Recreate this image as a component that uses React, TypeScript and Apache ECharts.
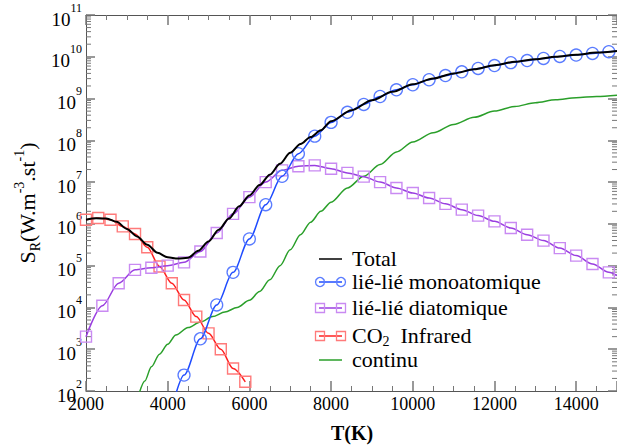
import React, { useEffect, useRef } from "react";
import * as echarts from "echarts";

// ---- data (T in K, S_R in W.m^-3.st^-1) ----
const totalT = [2000, 2250, 2500, 2750, 3000, 3250, 3500, 3750, 4000, 4250, 4500, 4750, 5000, 5250, 5500, 5750, 6000, 6250, 6500, 6750, 7000, 7250, 7500, 7750, 8000, 8500, 9000, 9500, 10000, 10500, 11000, 11500, 12000, 12500, 13000, 13500, 14000, 14500, 15000];
const totalS = [1.26e6, 1.36e6, 1.35e6, 1.12e6, 7.59e5, 5.01e5, 3.16e5, 2.04e5, 1.58e5, 1.48e5, 1.55e5, 2.29e5, 3.8e5, 7.24e5, 1.35e6, 2.63e6, 4.79e6, 8.51e6, 1.51e7, 2.75e7, 5.01e7, 8.13e7, 1.2e8, 1.74e8, 2.88e8, 5.25e8, 9.12e8, 1.45e9, 2.19e9, 3.02e9, 3.98e9, 5.01e9, 6.31e9, 7.59e9, 8.71e9, 1.0e10, 1.12e10, 1.26e10, 1.38e10];

const monoT = [4200, 4400, 4800, 5200, 5600, 6000, 6400, 6800, 7200, 7600, 8000, 8400, 8800, 9200, 9600, 10000, 10400, 10800, 11200, 11600, 12000, 12400, 12800, 13200, 13600, 14000, 14400, 14800, 15000];
const monoS = [85, 2.4e2, 1.78e3, 1.15e4, 6.92e4, 4.37e5, 2.88e6, 1.38e7, 4.79e7, 1.26e8, 2.69e8, 4.68e8, 7.24e8, 1.12e9, 1.62e9, 2.14e9, 2.82e9, 3.55e9, 4.37e9, 5.25e9, 6.17e9, 7.24e9, 8.13e9, 9.12e9, 1.02e10, 1.1e10, 1.2e10, 1.32e10, 1.35e10];
const monoNoMarker = [4200, 15000];

const diaT = [2000, 2400, 2800, 3200, 3600, 4000, 4400, 4800, 5200, 5600, 6000, 6400, 6800, 7200, 7600, 8000, 8400, 8800, 9200, 9600, 10000, 10400, 10800, 11200, 11600, 12000, 12400, 12800, 13200, 13600, 14000, 14400, 14800, 15000];
const diaS = [2.0e3, 1.1e4, 3.8e4, 7.94e4, 8.91e4, 1.0e5, 1.2e5, 2.19e5, 6.03e5, 1.74e6, 4.37e6, 1.0e7, 1.91e7, 2.4e7, 2.51e7, 2.09e7, 1.66e7, 1.35e7, 1.0e7, 7.24e6, 5.5e6, 4.17e6, 3.02e6, 2.19e6, 1.58e6, 1.15e6, 7.94e5, 5.5e5, 3.98e5, 2.63e5, 1.74e5, 1.1e5, 6.92e4, 5.75e4];
const diaNoMarker = [15000];

const co2T = [2000, 2300, 2600, 2900, 3200, 3500, 3800, 4100, 4400, 4700, 5000, 5300, 5600, 5900];
const co2S = [1.26e6, 1.38e6, 1.26e6, 8.71e5, 5.75e5, 2.75e5, 9.55e4, 3.8e4, 1.51e4, 6.03e3, 2.4e3, 1.0e3, 3.47e2, 1.66e2];

const contT = [3300, 3440, 3600, 3800, 4000, 4200, 4500, 4800, 5100, 5400, 5700, 6000, 6250, 6500, 6750, 7000, 7250, 7500, 7750, 8000, 8400, 8800, 9200, 9600, 10000, 10500, 11000, 11500, 12000, 12500, 13000, 13500, 14000, 14500, 15000];
const contS = [87, 174, 380, 759, 1.32e3, 2.19e3, 3.31e3, 4.47e3, 6.03e3, 7.76e3, 1.0e4, 1.48e4, 2.4e4, 4.57e4, 1.0e5, 2.4e5, 5.5e5, 1.1e6, 2.0e6, 3.31e6, 7.24e6, 1.38e7, 2.63e7, 5.25e7, 9.12e7, 1.51e8, 2.4e8, 3.55e8, 5.01e8, 6.46e8, 7.94e8, 9.33e8, 1.05e9, 1.12e9, 1.2e9];

// axis settings
const xMin = 2000;
const xMax = 15000;
const xStep = 2000;
const yMin = 1e2;
const yMax = 1e11;
const yMinorMultipliers = [2, 3, 4, 5, 6, 7, 8, 9];
const yDecadeExponents = [2, 3, 4, 5, 6, 7, 8, 9, 10];

const legendLabels = ["Total", "lié-lié monoatomique", "lié-lié diatomique", "CO{sub|2}  Infrared", "continu"];

const FONT = "Liberation Serif";
const C_BLACK = "#000000";
const C_BLUE = "#1f4cff";
const C_BLUE_M = "#5a7cff";
const C_PURPLE = "#9a3ee0";
const C_PURPLE_M = "#c98af2";
const C_RED = "#ff2020";
const C_RED_M = "#ff7a7a";
const C_GREEN = "#2a9f2a";
const AXIS_C = "#555555";
const TICK_C = "#777777";

function pairs(t: number[], s: number[], noMarker: number[] = []) {
  return t.map((x, i) =>
    noMarker.indexOf(x) >= 0 ? { value: [x, s[i]], symbol: "none" } : { value: [x, s[i]] }
  );
}

export default function App() {
  const ref = useRef<HTMLDivElement>(null);
  useEffect(() => {
    if (!ref.current) return;
    const chart = echarts.init(ref.current, null, { renderer: "svg" });

    const minorY: number[][] = [];
    yDecadeExponents.forEach((e) =>
      yMinorMultipliers.forEach((m) => minorY.push([xMin, m * Math.pow(10, e)]))
    );

    const xAxisCommon = {
      type: "value",
      min: xMin,
      max: xMax,
      interval: xStep,
      splitLine: { show: false },
      axisLine: { show: true, onZero: false, lineStyle: { color: AXIS_C, width: 1 } },
      axisTick: { show: true, inside: true, length: 10, lineStyle: { color: TICK_C, width: 1.5 } },
      minorTick: { show: true, splitNumber: 4, length: 5, lineStyle: { color: TICK_C, width: 1 } },
    };
    const yAxisCommon = {
      type: "log",
      logBase: 10,
      min: yMin,
      max: yMax,
      splitLine: { show: false },
      axisLine: { show: true, onZero: false, lineStyle: { color: AXIS_C, width: 1 } },
      axisTick: { show: true, inside: true, length: 9, lineStyle: { color: TICK_C, width: 1.5 } },
    };

    const legendRowsY = [259, 282, 308, 336, 360];
    const lx1 = 320;
    const lx2 = 341;
    const textX = 352;
    const legendColors = [C_BLACK, C_BLUE, C_PURPLE, C_RED, C_GREEN];
    const graphic: any[] = [];
    legendRowsY.forEach((y, i) => {
      graphic.push({
        type: "line",
        shape: { x1: lx1 - 1, y1: y, x2: lx2 + 1, y2: y },
        style: { stroke: legendColors[i], lineWidth: 1.5 },
      });
      if (i === 1) {
        [lx1, lx2].forEach((cx) =>
          graphic.push({ type: "circle", shape: { cx, cy: y, r: 4.5 }, style: { fill: "none", stroke: C_BLUE_M, lineWidth: 1.3 } })
        );
      }
      if (i === 2 || i === 3) {
        const mc = i === 2 ? C_PURPLE_M : C_RED_M;
        [lx1, lx2].forEach((cx) =>
          graphic.push({ type: "rect", shape: { x: cx - 4.5, y: y - 4.5, width: 9, height: 9 }, style: { fill: "none", stroke: mc, lineWidth: 1.3 } })
        );
      }
      graphic.push({
        type: "text",
        x: textX,
        y: y - 1,
        style: {
          text: legendLabels[i],
          fontFamily: FONT,
          fontSize: 22,
          fill: "#000",
          verticalAlign: "middle",
          align: "left",
          rich: { sub: { fontFamily: FONT, fontSize: 14, verticalAlign: "bottom", padding: [12, 0, 0, 0] } },
        },
      });
    });
    // y axis title
    graphic.push({
      type: "text",
      x: 27,
      y: 203,
      rotation: Math.PI / 2,
      style: {
        text: "{b|S}{sub|R}{b|(W.m}{sup|-3}{b|.st}{sup|-1}{b|)}",
        align: "center",
        verticalAlign: "middle",
        fill: "#000",
        rich: {
          b: { fontFamily: FONT, fontSize: 22, padding: [4, 0, 4, 0], verticalAlign: "middle" },
          sup: { fontFamily: FONT, fontSize: 14, verticalAlign: "top" },
          sub: { fontFamily: FONT, fontSize: 14, verticalAlign: "bottom" },
        },
      },
    });
    // x axis title
    graphic.push({
      type: "text",
      x: 352,
      y: 433,
      style: {
        text: "T(K)",
        fontFamily: FONT,
        fontSize: 20,
        fontWeight: "bold",
        fill: "#000",
        align: "center",
        verticalAlign: "middle",
      },
    });

    const option: any = {
      animation: false,
      backgroundColor: "#ffffff",
      textStyle: { fontFamily: FONT },
      grid: { left: 86, right: -2, top: 15, bottom: 54, containLabel: false },
      xAxis: [
        {
          ...xAxisCommon,
          position: "bottom",
          axisLabel: {
            show: true,
            showMaxLabel: false,
            margin: 4,
            fontFamily: FONT,
            fontSize: 18,
            color: "#000",
            formatter: (v: number) => String(v),
          },
        },
        { ...xAxisCommon, position: "top", axisLabel: { show: false } },
      ],
      yAxis: [
        {
          ...yAxisCommon,
          position: "left",
          axisLabel: {
            show: true,
            margin: 4,
            fontFamily: FONT,
            formatter: (v: number) => "{b|10}{sup|" + Math.round(Math.log10(v)) + "}",
            rich: {
              b: { fontFamily: FONT, fontSize: 19, color: "#000", padding: [8, 0, 0, 0], verticalAlign: "bottom" },
              sup: { fontFamily: FONT, fontSize: 12, color: "#000", verticalAlign: "top" },
            },
          },
        },
        { ...yAxisCommon, position: "right", axisLabel: { show: false } },
      ],
      graphic,
      series: [
        {
          type: "custom",
          silent: true,
          clip: false,
          data: minorY,
          renderItem: (params: any, api: any) => {
            const cs = params.coordSys;
            const y = api.coord([xMin, api.value(1)])[1];
            const st = { stroke: TICK_C, lineWidth: 1 };
            return {
              type: "group",
              children: [
                { type: "line", shape: { x1: cs.x, y1: y, x2: cs.x + 5, y2: y }, style: st },
                { type: "line", shape: { x1: cs.x + cs.width - 5, y1: y, x2: cs.x + cs.width, y2: y }, style: st },
              ],
            };
          },
        },
        {
          name: "continu",
          type: "line",
          data: pairs(contT, contS),
          showSymbol: false,
          symbol: "none",
          smooth: 0.3,
          smoothMonotone: "x",
          clip: true,
          lineStyle: { color: C_GREEN, width: 1.5 },
          itemStyle: { color: C_GREEN },
          z: 3,
        },
        {
          name: "CO2 Infrared",
          type: "line",
          data: pairs(co2T, co2S),
          symbol: "rect",
          symbolSize: 11,
          smooth: 0.3,
          smoothMonotone: "x",
          clip: true,
          lineStyle: { color: C_RED, width: 1.5 },
          itemStyle: { color: "rgba(0,0,0,0)", borderColor: C_RED_M, borderWidth: 1.4 },
          z: 4,
        },
        {
          name: "lié-lié diatomique",
          type: "line",
          data: pairs(diaT, diaS, diaNoMarker),
          symbol: "rect",
          symbolSize: 11,
          smooth: 0.3,
          smoothMonotone: "x",
          clip: true,
          lineStyle: { color: C_PURPLE, width: 1.5 },
          itemStyle: { color: "rgba(0,0,0,0)", borderColor: C_PURPLE_M, borderWidth: 1.4 },
          z: 5,
        },
        {
          name: "lié-lié monoatomique",
          type: "line",
          data: pairs(monoT, monoS, monoNoMarker),
          symbol: "circle",
          symbolSize: 12,
          smooth: 0.3,
          smoothMonotone: "x",
          clip: true,
          lineStyle: { color: C_BLUE, width: 1.5 },
          itemStyle: { color: "rgba(0,0,0,0)", borderColor: C_BLUE_M, borderWidth: 1.3 },
          z: 6,
        },
        {
          name: "Total",
          type: "line",
          data: pairs(totalT, totalS),
          symbol: "none",
          showSymbol: false,
          smooth: 0.3,
          smoothMonotone: "x",
          clip: true,
          lineStyle: { color: C_BLACK, width: 2 },
          itemStyle: { color: C_BLACK },
          z: 7,
        },
      ],
    };
    chart.setOption(option);
    return () => chart.dispose();
  }, []);
  return <div ref={ref} style={{ position: "absolute", left: 0, top: 0, width: 617, height: 445 }} />;
}
